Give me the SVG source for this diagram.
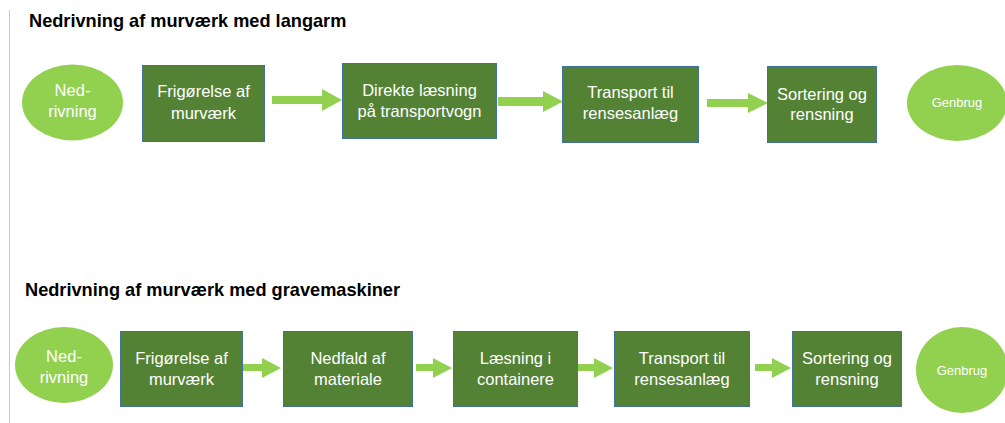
<svg xmlns="http://www.w3.org/2000/svg" width="1005" height="423" viewBox="0 0 1005 423">
<style>
.bg{fill:#ffffff}
.title{font-family:"Liberation Sans",Arial,sans-serif;font-weight:bold;font-size:18.2px;fill:#000}
.box{fill:#548235;stroke:#41719C;stroke-width:1}
.oval{fill:#92D050}
.lbl{font-family:"Liberation Sans",Arial,sans-serif;font-size:16.5px;fill:#fff;text-anchor:middle}
.sm{font-family:"Liberation Sans",Arial,sans-serif;font-size:13px;fill:#fff;text-anchor:middle}
.arr{fill:#92D050}
</style>
<rect class="bg" x="0" y="0" width="1005" height="423"/>
<line x1="9.5" y1="10" x2="9.5" y2="423" stroke="#c8c8c8" stroke-width="1"/>
<text class="title" x="29" y="27">Nedrivning af murværk med langarm</text>
<text class="title" x="25" y="296">Nedrivning af murværk med gravemaskiner</text>

<g id="connectors">
<polygon class="arr" points="272,96 322,96 322,89 342,100 322,111 322,104 272,104"/>
<polygon class="arr" points="498,97 543,97 543,91 563,101.5 543,112 543,106 498,106"/>
<polygon class="arr" points="707,99 748,99 748,93 768,103 748,113 748,107 707,107"/>
<polygon class="arr" points="243,364 262,364 262,358 281,368 262,378 262,371 243,371"/>
<polygon class="arr" points="416,364 433,364 433,358 452,368 433,378 433,371 416,371"/>
<polygon class="arr" points="577,364 594,364 594,358 613,368 594,378 594,371 577,371"/>
<polygon class="arr" points="755,364 772,364 772,358 791,368 772,378 772,371 755,371"/>
</g>

<g id="t-nedrivning">
<ellipse class="oval" cx="72.5" cy="102.5" rx="50.5" ry="38"/>
<text class="lbl" x="72.5" y="96">Ned-</text>
<text class="lbl" x="72.5" y="117">rivning</text>
</g>
<g id="t-frigoerelse">
<rect class="box" x="142.5" y="65.5" width="122" height="76"/>
<text class="lbl" x="203.5" y="97">Frigørelse af</text>
<text class="lbl" x="203.5" y="119">murværk</text>
</g>
<g id="t-direkte">
<rect class="box" x="342.5" y="63.5" width="154" height="75"/>
<text class="lbl" x="419.5" y="96">Direkte læsning</text>
<text class="lbl" x="419.5" y="117">på transportvogn</text>
</g>
<g id="t-transport">
<rect class="box" x="562.5" y="66.5" width="136" height="76"/>
<text class="lbl" x="630.5" y="98">Transport til</text>
<text class="lbl" x="630.5" y="119">rensesanlæg</text>
</g>
<g id="t-sortering">
<rect class="box" x="767.5" y="66.5" width="109" height="76"/>
<text class="lbl" x="822" y="100">Sortering og</text>
<text class="lbl" x="822" y="120">rensning</text>
</g>
<g id="t-genbrug">
<ellipse class="oval" cx="957" cy="103" rx="50" ry="38"/>
<text class="sm" x="957" y="107">Genbrug</text>
</g>

<g id="b-nedrivning">
<ellipse class="oval" cx="64" cy="365" rx="49" ry="38"/>
<text class="lbl" x="64" y="362">Ned-</text>
<text class="lbl" x="64" y="383">rivning</text>
</g>
<g id="b-frigoerelse">
<rect class="box" x="120.5" y="331.5" width="122" height="75"/>
<text class="lbl" x="181.5" y="364">Frigørelse af</text>
<text class="lbl" x="181.5" y="385">murværk</text>
</g>
<g id="b-nedfald">
<rect class="box" x="283.5" y="331.5" width="129" height="75"/>
<text class="lbl" x="348" y="364">Nedfald af</text>
<text class="lbl" x="348" y="385">materiale</text>
</g>
<g id="b-laesning">
<rect class="box" x="453.5" y="331.5" width="124" height="75"/>
<text class="lbl" x="515.5" y="364">Læsning i</text>
<text class="lbl" x="515.5" y="385">containere</text>
</g>
<g id="b-transport">
<rect class="box" x="614.5" y="331.5" width="135" height="75"/>
<text class="lbl" x="682" y="364">Transport til</text>
<text class="lbl" x="682" y="385">rensesanlæg</text>
</g>
<g id="b-sortering">
<rect class="box" x="792.5" y="331.5" width="109" height="75"/>
<text class="lbl" x="847" y="364">Sortering og</text>
<text class="lbl" x="847" y="385">rensning</text>
</g>
<g id="b-genbrug">
<ellipse class="oval" cx="962" cy="370" rx="46" ry="43"/>
<text class="sm" x="962" y="375">Genbrug</text>
</g>
</svg>
